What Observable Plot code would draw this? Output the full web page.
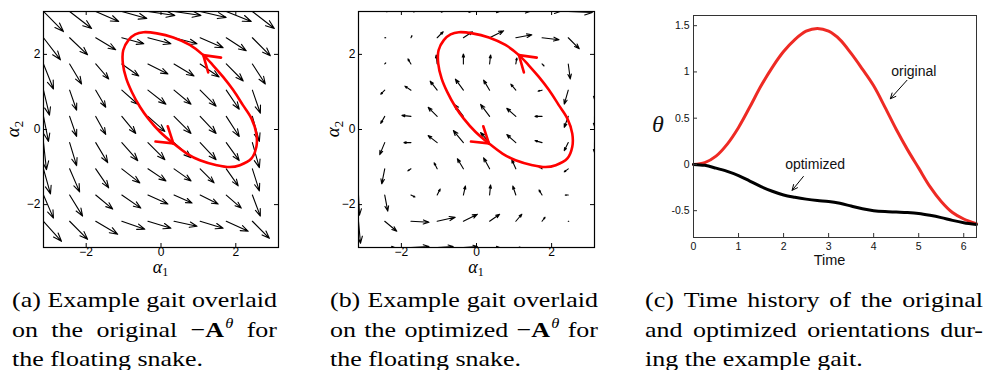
<!DOCTYPE html>
<html>
<head>
<meta charset="utf-8">
<script src="https://cdn.jsdelivr.net/npm/d3@7"></script>
<script src="https://cdn.jsdelivr.net/npm/@observablehq/plot@0.6"></script>
<style>
  body { margin: 0; background: #fff; }
  #fig { position: relative; width: 985px; height: 370px; overflow: hidden; background: #fff; }
  .panel { position: absolute; top: 0; }
  .panel svg { overflow: visible; }
  .cap { position: absolute; top: 285px; font-family: "Liberation Serif", "Times New Roman", serif;
         font-size: 22px; line-height: 29.5px; color: #000; transform-origin: 0 0; }
  .cap .ln { display: flex; justify-content: space-between; white-space: nowrap; }
  .cap .last { white-space: nowrap; }
  .cap sup { font-size: 14px; line-height: 0; vertical-align: 0.6em; font-style: italic; margin-left: 1px; }
</style>
</head>
<body>
<div id="fig">
  <div class="panel" id="pa" style="left:0px"></div>
  <div class="panel" id="pb" style="left:320px"></div>
  <div class="panel" id="pc" style="left:640px"></div>
</div>
<script>
// ---- quiver grid: alpha values at the arrow tails (rows listed top to bottom) ----
const alpha1Cols = [-3.142, -2.443, -1.745, -1.047, -0.349, 0.349, 1.047, 1.745, 2.443, 3.142];
const alpha2Rows = [3.142, 2.443, 1.745, 1.047, 0.349, -0.349, -1.047, -1.745, -2.443, -3.142];
const quiverScale = 0.0267;   // quiver autoscale: field units -> alpha units
const _ = null;

// original -A^theta field (u = alpha1 component, v = alpha2 component)
const Ua = [
  [20, 22, 23, 25, 27, 27, 26, 25, 22, _],
  [17, 18, 20, 22, 23, 23, 23, 20, 18, _],
  [10, 12, 13, 17, 20, 20, 19, 17, 13, _],
  [ 6,  7, 10, 16, 18, 17, 16, 13,  8, _],
  [ 5,  7, 10, 14, 17, 17, 16, 13,  7, _],
  [ 3,  7, 12, 16, 17, 17, 16, 13,  7, _],
  [ 7, 10, 13, 18, 18, 17, 14, 12,  7, _],
  [10, 13, 17, 19, 20, 18, 18, 15,  8, _],
  [18, 18, 22, 23, 23, 23, 23, 22, 17, _],
  [ _,  _,  _,  _,  _,  _,  _,  _,  _, _]
];
const Va = [
  [-20, -17, -10,  -7,  -4,  -4,  -6, -10, -17, _],
  [-22, -17, -12,  -6,  -6,  -6, -10, -13, -18, _],
  [-25, -20, -15, -12, -10, -12, -13, -17, -20, _],
  [-25, -20, -17, -14, -14, -14, -16, -19, -23, _],
  [-25, -20, -18, -17, -15, -17, -17, -20, -25, _],
  [-27, -23, -20, -18, -17, -15, -17, -18, -25, _],
  [-25, -23, -19, -14, -12, -12, -14, -17, -22, _],
  [-23, -21, -14, -13,  -9,  -8,  -9, -13, -21, _],
  [-20, -18, -13,  -8,  -7,  -5,  -7, -10, -17, _],
  [  _,   _,   _,   _,   _,   _,   _,   _,   _, _]
];

// optimized -A^theta field
const Ub = [
  [_,  3,  4,  6,  8, 10, 14, 18, 24, _],
  [_,  1,  1,  6,  9, 14, 16, 17, 11, _],
  [_,  1, -3, -1,  0,  1,  1,  2,  2, _],
  [_, -4, -6, -7, -8, -6, -5, -4, -4, 0],
  [_, -4, -9, -9, -9, -9, -9, -7, -4, 0],
  [_, -5, -7, -9, -10, -9, -9, -7, -4, 0],
  [_, -3, -3, -3, -6, -6, -4, -3, -4, _],
  [1,  3,  4,  3,  2,  1, -3, -3, -3, _],
  [2, 12, 18, 18, 14, 10,  6,  3, 0.5, _],
  [_, 10, 18, 16, 14, 10,  5,  _,  _, _]
];
const Vb = [
  [  _,   0,  0, 0,  0,  0, 0,  0,  -1, _],
  [  _,   0,  2, 6,  6,  7, 3, -2, -11, _],
  [  _,   1,  5, 9, 10,  9, 6, -2, -15, _],
  [  _,  -4,  4, 9, 11, 10, 6, -1, -14, -9],
  [  _,  -7,  1, 9, 12, 12, 8,  0, -11, -10],
  [  _, -12,  0, 7, 12, 10, 8,  2,  -8, -10],
  [  _, -15, -2, 6, 10, 11, 9,  2,  -3, _],
  [-20, -16, -2, 6,  9, 10, 9,  5,   0, _],
  [-22, -10, -1, 4,  7,  7, 7,  4,   0, _],
  [  _,   0,  1, 1,  1,  0, 0,  _,   _, _]
];

// example gait (closed loop, in the direction of travel)
const gaitA1 = [-0.47, -0.69, -0.87, -1.01, -1.02, -0.93, -0.78, -0.56, -0.34, -0.03, 0.33, 0.69, 1.04, 1.49,
                1.84, 2.11, 2.42, 2.55, 2.55, 2.42, 2.19, 1.93, 1.66, 1.39, 1.13, 0.77, 0.33, -0.11];
const gaitA2 = [2.59, 2.53, 2.38, 2.11, 1.76, 1.36, 1.00, 0.60, 0.29, -0.06, -0.37, -0.64, -0.82, -0.95,
                -1.00, -0.95, -0.77, -0.46, -0.11, 0.29, 0.65, 1.05, 1.40, 1.71, 1.98, 2.25, 2.45, 2.56];
const gaitArrowAt = [10, 24];   // gait samples carrying a direction arrowhead
const alphaTicks = [-2, 0, 2];

// orientation history over one gait cycle
const timeT = [0, 0.25, 0.5, 0.75, 1, 1.25, 1.5, 1.75, 2, 2.25, 2.5, 2.75, 3, 3.25, 3.5, 3.75,
               4, 4.25, 4.5, 4.75, 5, 5.25, 5.5, 5.75, 6, 6.28];
const thetaOriginal = [0, 0.02, 0.09, 0.22, 0.40, 0.62, 0.85, 1.05, 1.22, 1.35, 1.44, 1.47, 1.44, 1.35, 1.20, 1.03,
                       0.85, 0.62, 0.38, 0.16, -0.04, -0.24, -0.40, -0.52, -0.59, -0.64];
const thetaOptimized = [0, -0.01, -0.04, -0.075, -0.12, -0.18, -0.24, -0.29, -0.33, -0.355, -0.375, -0.39, -0.40, -0.42, -0.45, -0.48,
                        -0.50, -0.51, -0.515, -0.52, -0.53, -0.55, -0.575, -0.605, -0.63, -0.65];
const timeTicks = [0, 1, 2, 3, 4, 5, 6];
const thetaTicks = [-0.5, 0, 0.5, 1, 1.5];
const annotations = [
  {label: "original",  tx: 4.89, ty: 1.0, x1: 4.74, y1: 0.91,  x2: 4.37, y2: 0.71},
  {label: "optimized", tx: 2.70, ty: 0.0, x1: 2.44, y1: -0.13, x2: 2.19, y2: -0.28}
];

// sub-figure captions
const captions = [
  {left: 12,  width: 265, lines: ["(a) Example gait overlaid", "on the original −<b>A</b><sup>θ</sup> for", "the floating snake."]},
  {left: 330, width: 268, lines: ["(b) Example gait overlaid", "on the optimized −<b>A</b><sup>θ</sup> for", "the floating snake."]},
  {left: 645, width: 338, lines: ["(c) Time history of the original", "and optimized orientations dur-", "ing the example gait."]}
];

// ---------------------------------------------------------------------------
const minusFormat = d => (d < 0 ? "\u2212" + (-d) : String(d));

function quiverData(U, V) {
  const out = [];
  alpha2Rows.forEach((a2, j) => alpha1Cols.forEach((a1, k) => {
    const u = U[j][k], v = V[j][k];
    if (u == null || v == null) return;
    out.push({x1: a1, y1: a2, x2: a1 + u * quiverScale, y2: a2 + v * quiverScale});
  }));
  return out;
}

// open V arrowheads pointing along the direction of travel of the gait
function gaitArrowheads() {
  const n = gaitA1.length, segs = [], wingLen = 0.48, half = 33 * Math.PI / 180;
  for (const i of gaitArrowAt) {
    const ia = (i - 1 + n) % n, ib = (i + 1) % n;
    const back = Math.atan2(gaitA2[ib] - gaitA2[ia], gaitA1[ib] - gaitA1[ia]) + Math.PI;
    for (const s of [-1, 1]) {
      const t = back + s * half;
      segs.push({x1: gaitA1[i], y1: gaitA2[i], x2: gaitA1[i] + wingLen * Math.cos(t), y2: gaitA2[i] + wingLen * Math.sin(t)});
    }
  }
  return segs;
}

function fieldPanel(U, V, ml, mr) {
  const W = 320, H = 275, mt = 11, mb = 28;
  const fw = W - ml - mr, fh = H - mt - mb;
  const gait = gaitA1.map((a, i) => ({a1: a, a2: gaitA2[i]}));
  const svg = Plot.plot({
    width: W, height: H, marginLeft: ml, marginRight: mr, marginTop: mt, marginBottom: mb,
    x: {domain: [-Math.PI, Math.PI]},
    y: {domain: [-Math.PI, Math.PI]},
    style: {fontFamily: "'Liberation Sans', Arial, sans-serif", fontSize: "12px", color: "#000", background: "transparent"},
    marks: [
      Plot.arrow(quiverData(U, V), {x1: "x1", y1: "y1", x2: "x2", y2: "y2", stroke: "#000",
        strokeWidth: 1.1, headLength: 30, headAngle: 40, clip: true}),
      Plot.line(gait, {x: "a1", y: "a2", curve: "catmull-rom-closed", stroke: "#ff0000", strokeWidth: 2.6}),
      Plot.link(gaitArrowheads(), {x1: "x1", y1: "y1", x2: "x2", y2: "y2", stroke: "#ff0000",
        strokeWidth: 2.6, strokeLinecap: "round"}),
      Plot.ruleX(alphaTicks, {insetTop: fh - 4, stroke: "#000"}),
      Plot.ruleX(alphaTicks, {insetBottom: fh - 4, stroke: "#000"}),
      Plot.ruleY(alphaTicks, {insetRight: fw - 4, stroke: "#000"}),
      Plot.ruleY(alphaTicks, {insetLeft: fw - 4, stroke: "#000"}),
      Plot.frame({stroke: "#000", strokeWidth: 1.2}),
      Plot.axisX({ticks: alphaTicks, tickSize: 0, tickPadding: 0, label: null, tickFormat: minusFormat}),
      Plot.axisY({ticks: alphaTicks, tickSize: 0, tickPadding: 3, label: null, tickFormat: minusFormat})
    ]
  });
  const s = d3.select(svg);
  const cx = ml + fw / 2;
  const t1 = s.append("text").attr("x", cx).attr("y", 273).attr("text-anchor", "middle")
    .style("font-family", "'Liberation Serif', serif").style("font-size", "18px");
  t1.append("tspan").style("font-style", "italic").text("α");
  t1.append("tspan").attr("dy", 3).style("font-size", "12px").text("1");
  const t2 = s.append("text").attr("transform", `translate(19,${mt + fh / 2}) rotate(-90)`).attr("text-anchor", "middle")
    .style("font-family", "'Liberation Serif', serif").style("font-size", "19px");
  t2.append("tspan").style("font-style", "italic").text("α");
  t2.append("tspan").attr("dy", 4).style("font-size", "13px").text("2");
  return svg;
}

function historyPanel() {
  const W = 345, H = 275, ml = 53, mr = 9, mt = 15, mb = 38;
  const fw = W - ml - mr, fh = H - mt - mb;
  const orig = timeT.map((t, i) => ({t, theta: thetaOriginal[i]}));
  const opt = timeT.map((t, i) => ({t, theta: thetaOptimized[i]}));
  const svg = Plot.plot({
    width: W, height: H, marginLeft: ml, marginRight: mr, marginTop: mt, marginBottom: mb,
    x: {domain: [0, 2 * Math.PI]},
    y: {domain: [-0.79, 1.61]},
    style: {fontFamily: "'Liberation Sans', Arial, sans-serif", fontSize: "10.5px", color: "#111", background: "transparent"},
    marks: [
      Plot.line(orig, {x: "t", y: "theta", stroke: "#ee2a24", strokeWidth: 3, curve: "catmull-rom"}),
      Plot.line(opt, {x: "t", y: "theta", stroke: "#000", strokeWidth: 3, curve: "catmull-rom"}),
      Plot.arrow(annotations, {x1: "x1", y1: "y1", x2: "x2", y2: "y2", stroke: "#000", strokeWidth: 1, headLength: 9, headAngle: 50}),
      Plot.text(annotations, {x: "tx", y: "ty", text: "label", fontSize: 14, fill: "#111"}),
      Plot.ruleX(timeTicks, {insetTop: fh - 4, stroke: "#333"}),
      Plot.ruleY(thetaTicks, {insetRight: fw - 4, stroke: "#333"}),
      Plot.frame({stroke: "#333", strokeWidth: 1}),
      Plot.axisX({ticks: timeTicks, tickSize: 0, tickPadding: 5, label: null, tickFormat: d => String(d)}),
      Plot.axisY({ticks: thetaTicks, tickSize: 0, tickPadding: 4, label: null, tickFormat: d => String(d)})
    ]
  });
  const s = d3.select(svg);
  s.append("text").attr("x", ml + fw / 2 - 5).attr("y", 265).attr("text-anchor", "middle")
    .style("font-family", "'Liberation Sans', Arial, sans-serif").style("font-size", "14.5px").attr("fill", "#111").text("Time");
  s.append("text").attr("x", 18).attr("y", 132).attr("text-anchor", "middle")
    .style("font-family", "'Liberation Serif', serif").style("font-size", "24px").style("font-style", "italic")
    .attr("fill", "#111").text("θ");
  return svg;
}

document.getElementById("pa").appendChild(fieldPanel(Ua, Va, 43, 42));
document.getElementById("pb").appendChild(fieldPanel(Ub, Vb, 38, 46));
document.getElementById("pc").appendChild(historyPanel());

// captions: first two lines justified to the column width, the last one set ragged
const stretch = 1.18;
const fig = document.getElementById("fig");
for (const c of captions) {
  const div = document.createElement("div");
  div.className = "cap";
  div.style.left = c.left + "px";
  div.style.width = (c.width / stretch) + "px";
  div.style.transform = `scaleX(${stretch})`;
  c.lines.forEach((line, i) => {
    const ln = document.createElement("div");
    if (i < c.lines.length - 1) {
      ln.className = "ln";
      ln.innerHTML = line.split(" ").map(w => `<span>${w}</span>`).join("");
    } else {
      ln.className = "last";
      ln.innerHTML = line;
    }
    div.appendChild(ln);
  });
  fig.appendChild(div);
}
</script>
</body>
</html>
